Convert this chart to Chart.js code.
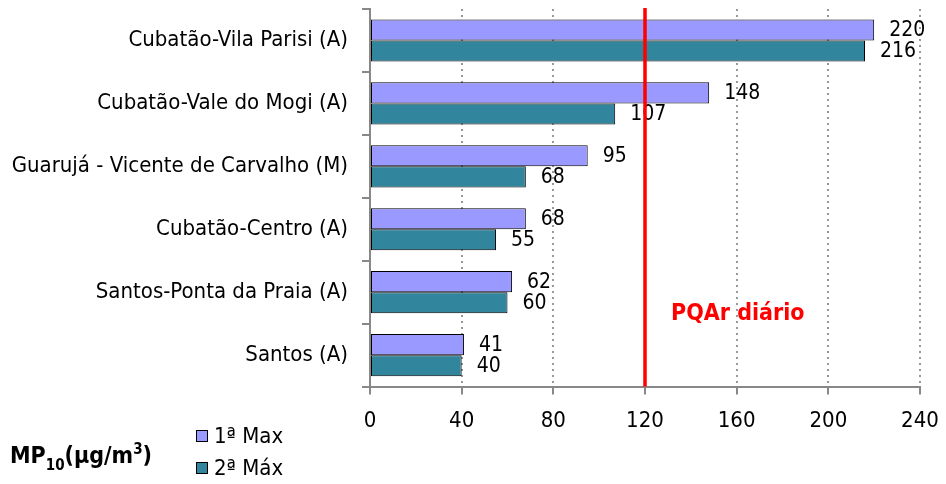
<!DOCTYPE html>
<html>
<head>
<meta charset="utf-8">
<script src="https://cdn.jsdelivr.net/npm/chart.js@4"></script>
<style>
    html, body { margin: 0; padding: 0; background: #fff; }
    #wrap { width: 946px; height: 484px; position: relative; }
</style>
</head>
<body>
<div id="wrap"><canvas id="chart"></canvas></div>
<script>
const stations = [
    "Cubatão-Vila Parisi (A)",
    "Cubatão-Vale do Mogi (A)",
    "Guarujá - Vicente de Carvalho (M)",
    "Cubatão-Centro (A)",
    "Santos-Ponta da Praia (A)",
    "Santos (A)"
];
const firstMax = [220, 148, 95, 68, 62, 41];
const secondMax = [216, 107, 68, 55, 60, 40];
const seriesNames = ["1ª Max", "2ª Máx"];
const seriesColors = ["#9999FF", "#31859C"];
const xMin = 0, xMax = 240, xStep = 40;
const dailyStandard = 120;
const standardLabel = "PQAr diário";

const FONT = "'Liberation Sans Narrow', 'DejaVu Sans Condensed', sans-serif";

document.addEventListener("DOMContentLoaded", () => {
    const ctx = document.getElementById("chart").getContext("2d");

    // value labels next to each bar end
    const valueLabels = {
        id: "valueLabels",
        afterDatasetsDraw(chart) {
            const c = chart.ctx;
            c.save();
            c.font = "21px " + FONT;
            c.fillStyle = "#000";
            c.textAlign = "left";
            c.textBaseline = "middle";
            chart.data.datasets.forEach((ds, i) => {
                chart.getDatasetMeta(i).data.forEach((bar, j) => {
                    c.fillText(String(ds.data[j]), bar.x + 15, bar.y + 1);
                });
            });
            c.restore();
        }
    };

    // red reference line for the daily standard
    const standardLine = {
        id: "standardLine",
        afterDatasetsDraw(chart) {
            const c = chart.ctx;
            const x = chart.scales.x.getPixelForValue(dailyStandard);
            const area = chart.chartArea;
            c.save();
            c.strokeStyle = "#FF0000";
            c.lineWidth = 3.5;
            c.beginPath();
            c.moveTo(x, area.top - 1);
            c.lineTo(x, area.bottom);
            c.stroke();
            c.fillStyle = "#FF0000";
            c.font = "bold 23px " + FONT;
            c.textBaseline = "middle";
            c.fillText(standardLabel, x + 26, 314);
            c.restore();
        }
    };

    // unit title and legend in the bottom left corner
    const footer = {
        id: "footer",
        afterDraw(chart) {
            const c = chart.ctx;
            c.save();
            c.fillStyle = "#000";
            c.textBaseline = "alphabetic";
            let x = 10;
            c.font = "bold 23px " + FONT;
            c.fillText("MP", x, 463);
            x += c.measureText("MP").width;
            c.font = "bold 15px " + FONT;
            c.fillText("10", x, 470);
            x += c.measureText("10").width;
            c.font = "bold 23px " + FONT;
            c.fillText("(μg/m", x, 463);
            x += c.measureText("(μg/m").width;
            c.font = "bold 15px " + FONT;
            c.fillText("3", x, 454);
            x += c.measureText("3").width;
            c.font = "bold 23px " + FONT;
            c.fillText(")", x, 463);

            c.font = "22px " + FONT;
            c.textBaseline = "middle";
            seriesNames.forEach((name, i) => {
                const y = 436 + i * 32;
                c.fillStyle = seriesColors[i];
                c.fillRect(196, y - 6, 12, 12);
                c.strokeStyle = "#000";
                c.lineWidth = 1;
                c.strokeRect(196.5, y - 5.5, 11, 11);
                c.fillStyle = "#000";
                c.fillText(name, 214, y + 1);
            });
            c.restore();
        }
    };

    new Chart(ctx, {
        type: "bar",
        data: {
            labels: stations,
            datasets: [
                { label: seriesNames[0], data: firstMax, backgroundColor: seriesColors[0] },
                { label: seriesNames[1], data: secondMax, backgroundColor: seriesColors[1] }
            ]
        },
        options: {
            indexAxis: "y",
            responsive: true,
            maintainAspectRatio: false,
            animation: false,
            layout: { padding: { top: 9, right: 26, bottom: 37, left: 0 } },
            datasets: {
                bar: {
                    borderColor: "#000",
                    borderWidth: 1,
                    borderSkipped: false,
                    categoryPercentage: 0.67,
                    barPercentage: 1
                }
            },
            scales: {
                x: {
                    min: xMin,
                    max: xMax,
                    afterFit(scale) {
                        scale.paddingLeft = 0;
                        scale.paddingRight = 0;
                    },
                    ticks: {
                        stepSize: xStep,
                        color: "#000",
                        font: { family: FONT, size: 22 },
                        padding: 13,
                        maxRotation: 0,
                        minRotation: 0
                    },
                    grid: {
                        color: "#999",
                        lineWidth: 2,
                        tickLength: 8,
                        tickBorderDash: [],
                        tickColor: "#888"
                    },
                    border: { color: "#888", width: 2, dash: [2, 4] }
                },
                y: {
                    afterFit(scale) {
                        scale.width = 370;
                        scale.paddingTop = 0;
                        scale.paddingBottom = 0;
                    },
                    ticks: {
                        color: "#000",
                        font: { family: FONT, size: 22 },
                        padding: 14
                    },
                    grid: {
                        drawOnChartArea: false,
                        tickLength: 8,
                        color: "#888",
                        lineWidth: 2
                    },
                    border: { color: "#888", width: 2 }
                }
            },
            plugins: {
                legend: { display: false },
                tooltip: { enabled: false }
            }
        },
        plugins: [valueLabels, standardLine, footer]
    });
});
</script>
</body>
</html>
